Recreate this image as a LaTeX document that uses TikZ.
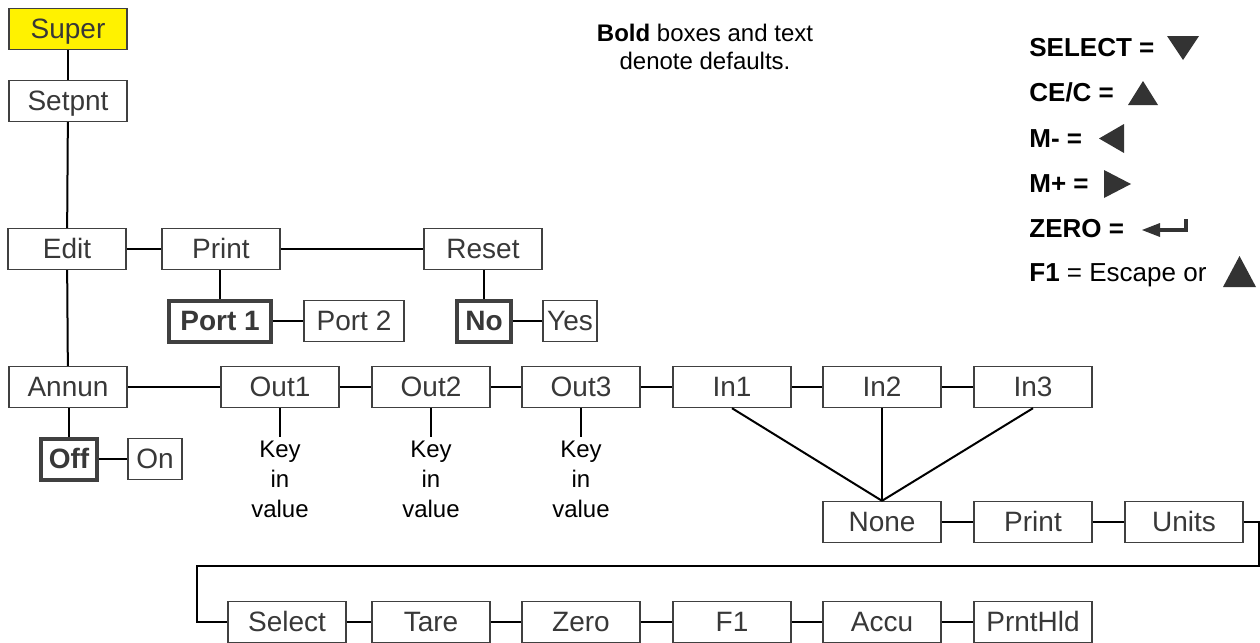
\documentclass[tikz,border=0pt]{standalone}
\usepackage{fontspec}
\setmainfont{Liberation Sans}
\definecolor{boxgray}{HTML}{404040}
\definecolor{labelgray}{HTML}{383838}
\definecolor{symgray}{HTML}{333333}
\definecolor{superyellow}{HTML}{FFF200}
\begin{document}
\begin{tikzpicture}[x=0.5pt,y=-0.5pt,
 box/.style={draw=boxgray, line width=0.7pt, fill=white, minimum width=59pt, minimum height=20.5pt, inner sep=0pt, text height=11.5pt, text depth=2.5pt, font=\fontsize{14}{16}\selectfont, text=labelgray},
 dbox/.style={box, line width=2pt, font=\bfseries\fontsize{14}{16}\selectfont},
 conn/.style={line width=1pt, black},
 note/.style={font=\fontsize{12}{15}\selectfont, align=center, inner xsep=0pt, inner ysep=2pt},
 leg/.style={anchor=base west, inner sep=0pt, font=\fontsize{13}{15}\selectfont},
 sym/.style={fill=symgray}]
\useasboundingbox (0,0) rectangle (1260,643);
% nodes
\node[box, fill=superyellow] (super) at (68,29) {Super};
\node[box] (setpnt) at (68,101) {Setpnt};
\node[box] (edit) at (67,249) {Edit};
\node[box] (print) at (221,249) {Print};
\node[box] (reset) at (483,249) {Reset};
\node[dbox, minimum width=51pt] (port1) at (220,321) {Port 1};
\node[box, minimum width=50pt] (port2) at (354,321) {Port 2};
\node[dbox, minimum width=27pt] (no) at (484,321) {No};
\node[box, minimum width=27pt] (yes) at (570,321) {Yes};
\node[box] (annun) at (68,387) {Annun};
\node[box] (out1) at (280,387) {Out1};
\node[box] (out2) at (431,387) {Out2};
\node[box] (out3) at (581,387) {Out3};
\node[box] (in1) at (732,387) {In1};
\node[box] (in2) at (882,387) {In2};
\node[box] (in3) at (1033,387) {In3};
\node[dbox, minimum width=28pt] (off) at (69,459) {Off};
\node[box, minimum width=27pt] (on) at (155,459) {On};
\node[note, anchor=north] (kv1) at (280,437) {Key\\in\\value};
\node[note, anchor=north] (kv2) at (431,437) {Key\\in\\value};
\node[note, anchor=north] (kv3) at (581,437) {Key\\in\\value};
\node[box] (none) at (882,522) {None};
\node[box] (print2) at (1033,522) {Print};
\node[box] (units) at (1184,522) {Units};
\node[box] (select) at (287,622) {Select};
\node[box] (tare) at (431,622) {Tare};
\node[box] (zero) at (581,622) {Zero};
\node[box] (f1) at (732,622) {F1};
\node[box] (accu) at (882,622) {Accu};
\node[box] (prnthld) at (1033,622) {PrntHld};
\coordinate (c1) at (1259,566);
\coordinate (c2) at (197,566);
% connectors
\draw[conn] (super) -- (setpnt);
\draw[conn] (setpnt) -- (edit);
\draw[conn] (edit) -- (annun);
\draw[conn] (edit) -- (print);
\draw[conn] (print) -- (reset);
\draw[conn] (print.south -| port1.north) -- (port1.north);
\draw[conn] (port1) -- (port2);
\draw[conn] (reset.south -| no.north) -- (no.north);
\draw[conn] (no) -- (yes);
\draw[conn] (annun) -- (out1);
\draw[conn] (out1) -- (out2);
\draw[conn] (out2) -- (out3);
\draw[conn] (out3) -- (in1);
\draw[conn] (in1) -- (in2);
\draw[conn] (in2) -- (in3);
\draw[conn] (annun.south -| off.north) -- (off.north);
\draw[conn] (off) -- (on);
\draw[conn] (out1.south) -- (kv1.north);
\draw[conn] (out2.south) -- (kv2.north);
\draw[conn] (out3.south) -- (kv3.north);
\draw[conn] (in1.south) -- (none.north);
\draw[conn] (in2.south) -- (none.north);
\draw[conn] (in3.south) -- (none.north);
\draw[conn] (none) -- (print2);
\draw[conn] (print2) -- (units);
\draw[conn] (units.east) -| (c1) -- (c2) |- (select.west);
\draw[conn] (select) -- (tare);
\draw[conn] (tare) -- (zero);
\draw[conn] (zero) -- (f1);
\draw[conn] (f1) -- (accu);
\draw[conn] (accu) -- (prnthld);
% note
\node[note, inner ysep=0pt, font=\fontsize{12}{14}\selectfont] (bold) at (705,47) {\textbf{Bold} boxes and text\\denote defaults.};
% legend
\node[leg] (l1) at (1029,56) {\textbf{SELECT =}};
\node[leg] (l2) at (1029,101) {\textbf{CE/C =}};
\node[leg] (l3) at (1029,147) {\textbf{M- =}};
\node[leg] (l4) at (1029,192) {\textbf{M+ =}};
\node[leg] (l5) at (1029,237) {\textbf{ZERO =}};
\node[leg] (l6) at (1029,281) {\textbf{F1} = Escape or};
\fill[symgray] (1167,36) -- (1199,36) -- (1183,60) -- cycle;
\fill[symgray] (1128,105) -- (1158,105) -- (1143,81) -- cycle;
\fill[symgray] (1124,124) -- (1124,153) -- (1099,138.5) -- cycle;
\fill[symgray] (1104,170) -- (1104,198) -- (1131,184) -- cycle;
\draw[symgray, line width=2pt] (1186,219) -- (1186,230) -- (1156,230);
\fill[symgray] (1142,230) -- (1160,223) -- (1160,237) -- cycle;
\fill[symgray] (1223,287) -- (1256,287) -- (1239.5,256) -- cycle;
\end{tikzpicture}
\end{document}
